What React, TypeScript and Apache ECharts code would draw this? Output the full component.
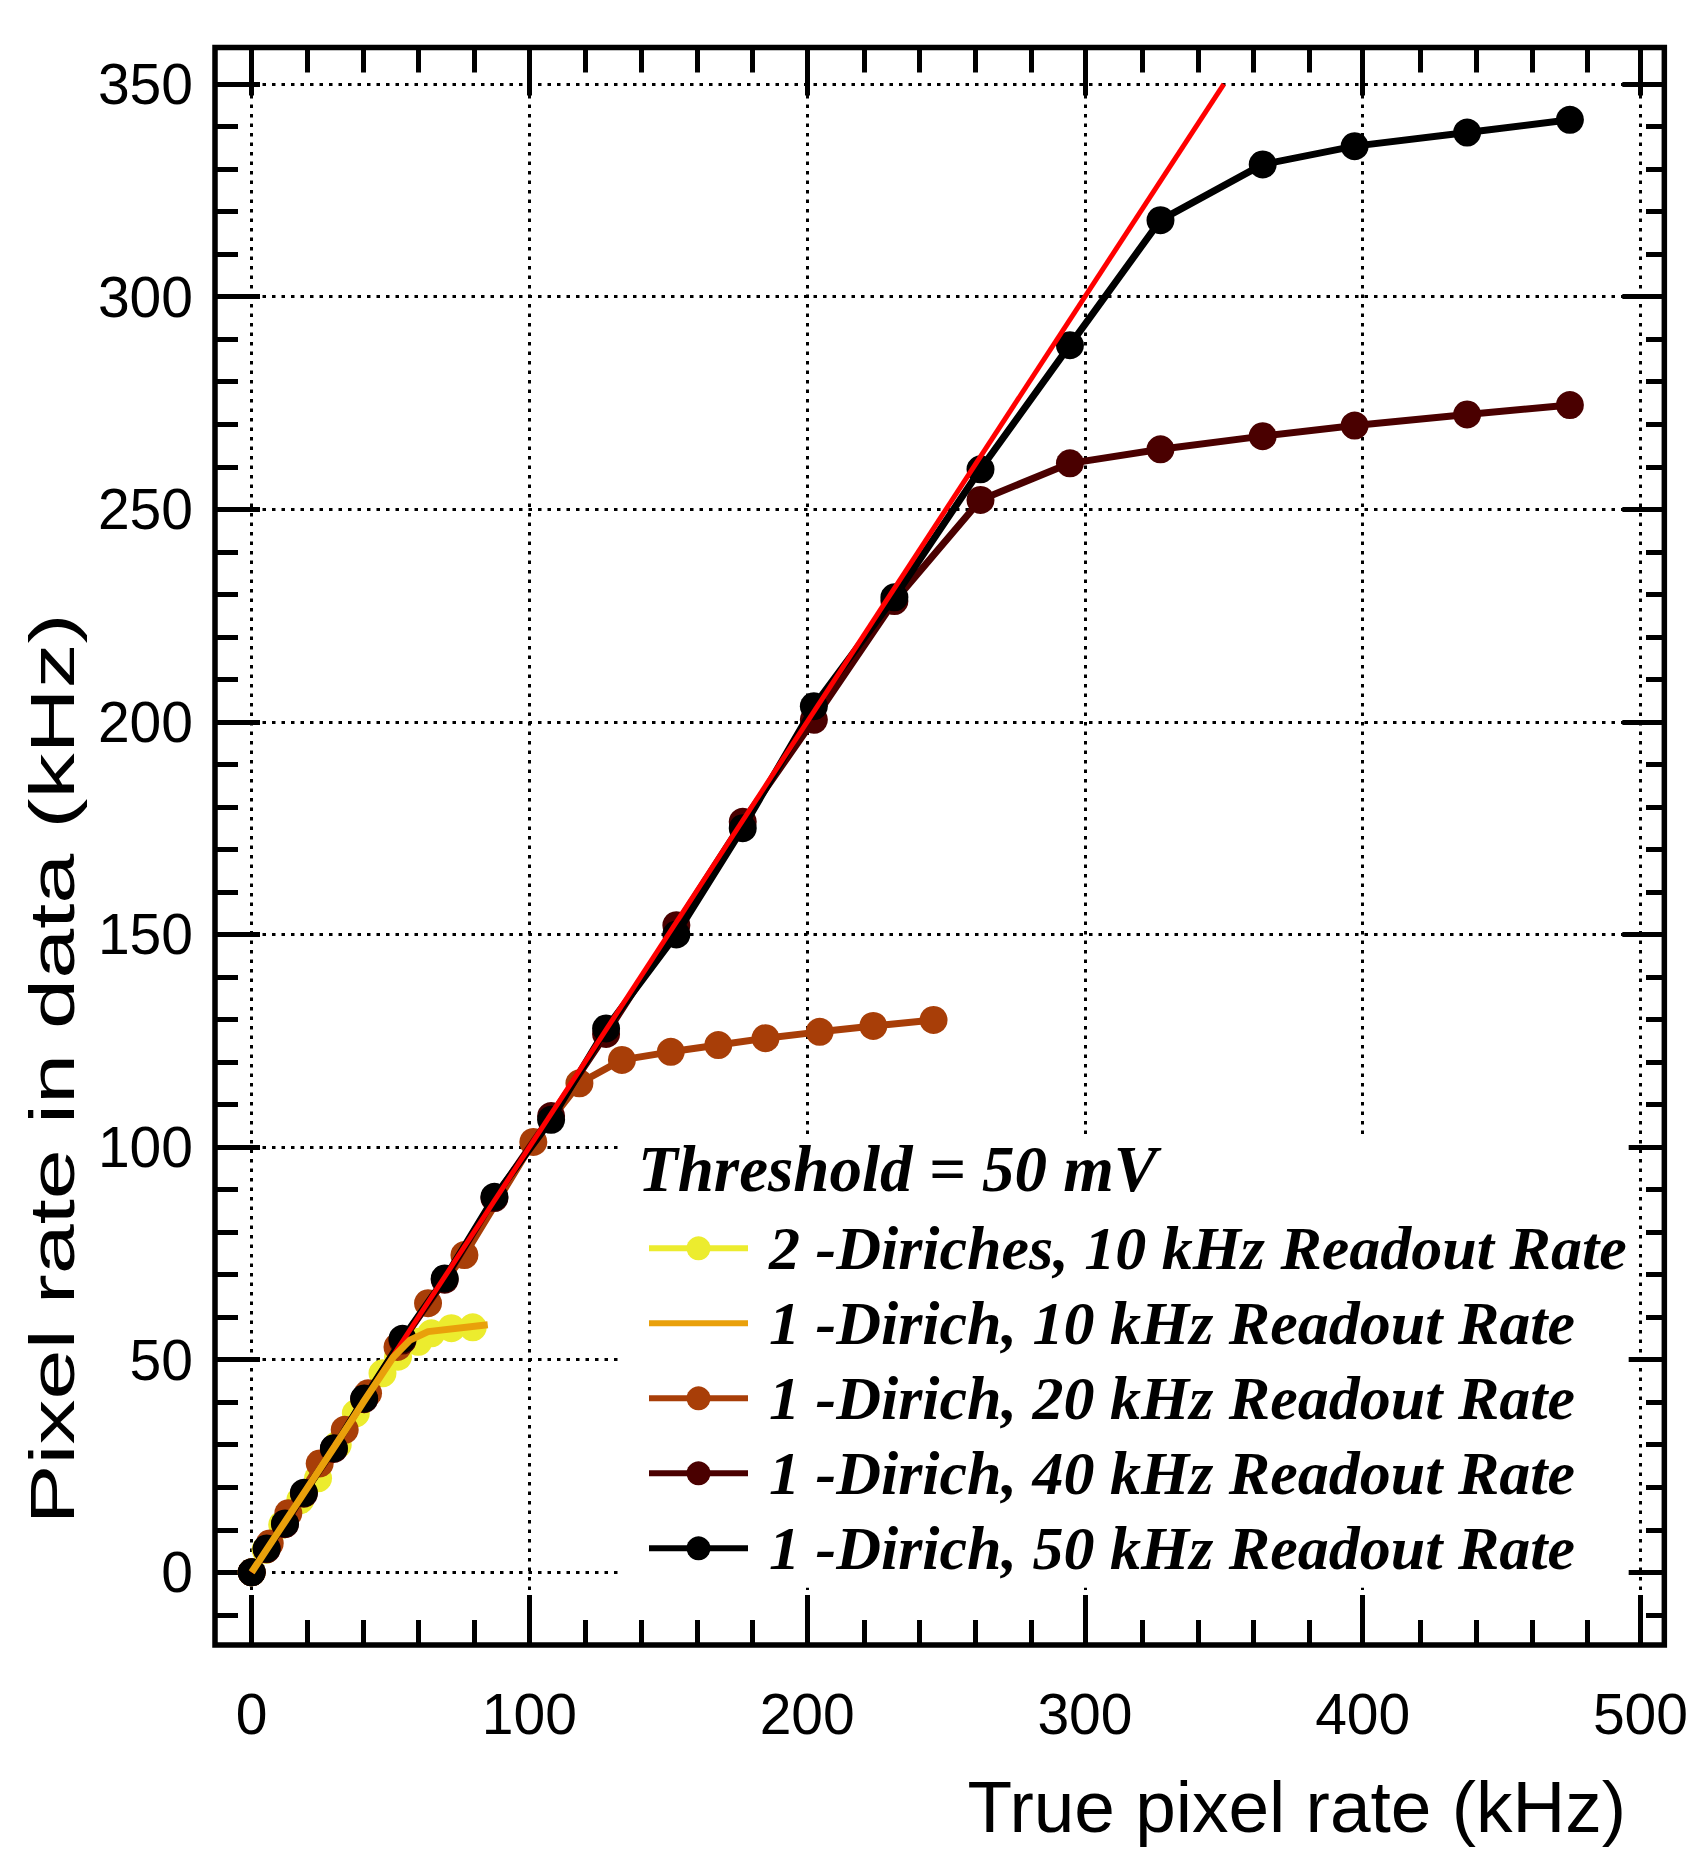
import React, { useEffect, useRef } from "react";
import * as echarts from "echarts";

// ---- axis ranges & ticks ----
const X_MIN = -13.2;
const X_MAX = 508.6;
const Y_MIN = -17.1;
const Y_MAX = 358.6;
const X_MAJOR = [0, 100, 200, 300, 400, 500];
const X_MINOR = [20, 40, 60, 80, 120, 140, 160, 180, 220, 240, 260, 280, 320, 340, 360, 380, 420, 440, 460, 480];
const Y_MAJOR = [0, 50, 100, 150, 200, 250, 300, 350];
const Y_MINOR = [-10, 10, 20, 30, 40, 60, 70, 80, 90, 110, 120, 130, 140, 160, 170, 180, 190, 210, 220, 230, 240, 260, 270, 280, 290, 310, 320, 330, 340];

// ---- series names ----
const NAMES = [
  "2 -Diriches, 10 kHz Readout Rate",
  "1 -Dirich, 10 kHz Readout Rate",
  "1 -Dirich, 20 kHz Readout Rate",
  "1 -Dirich, 40 kHz Readout Rate",
  "1 -Dirich, 50 kHz Readout Rate",
];

// ---- data ----
const YELLOW_X = [0, 5.0, 11.0, 17.5, 23.9, 31.0, 37.5, 47.1, 52.7, 60.0, 64.7, 71.9, 79.6];
const YELLOW_Y = [0, 5.3, 11.2, 17.0, 22.1, 30.0, 37.4, 46.8, 50.7, 54.2, 56.2, 57.4, 57.6];

const ORANGE_X = [0, 10, 20, 30, 40, 51, 57, 63.5, 85];
const ORANGE_Y = [0, 9.9, 19.8, 29.7, 39.8, 50.6, 54.6, 56.6, 58.2];

const RUST_X = [0, 6.5, 13.2, 24.5, 33.5, 41.9, 52.5, 63.5, 76.6, 101.4, 118.0, 133.3, 150.9, 168.0, 185.0, 204.5, 223.8, 245.5];
const RUST_Y = [0, 6.8, 13.9, 25.6, 33.5, 42.1, 53.0, 63.3, 74.6, 101.2, 115.0, 120.5, 122.4, 124.0, 125.6, 127.1, 128.5, 129.9];

const MAROON_X = [0, 5.4, 12.0, 18.8, 29.6, 40.5, 54.3, 69.5, 87.4, 107.8, 127.6, 152.9, 176.8, 202.4, 231.4, 262.4, 294.6, 327.2, 364.0, 397.1, 437.6, 474.6];
const MAROON_Y = [0, 5.4, 11.3, 18.5, 29.0, 40.7, 54.5, 68.8, 88.0, 107.3, 126.6, 152.2, 176.5, 200.5, 228.4, 252.2, 260.8, 264.1, 267.2, 269.7, 272.3, 274.5];

const BLACK_X = [0, 5.4, 12.0, 18.8, 29.6, 40.5, 54.3, 69.5, 87.4, 107.8, 127.6, 152.9, 176.8, 202.4, 231.4, 262.4, 294.6, 327.2, 364.0, 397.1, 437.6, 474.6];
const BLACK_Y = [0, 5.6, 11.5, 18.7, 29.2, 40.9, 54.9, 69.1, 88.3, 106.4, 127.9, 150.0, 175.0, 203.7, 229.3, 259.4, 288.6, 318.0, 331.1, 335.4, 338.6, 341.6];

const RED_X = [0, 350];
const RED_Y = [0, 350];

const YELLOW = "#ECEC2E";
const ORANGE = "#E9A00B";
const RUST = "#A83E08";
const MAROON = "#4A0000";
const BLACK = "#000000";
const RED = "#FF0000";

const SANS = '"Liberation Sans", Arial, Helvetica, sans-serif';
const SERIF = '"Liberation Serif", "Times New Roman", serif';

const pairs = (xs: number[], ys: number[]) => xs.map((x, i) => [x, ys[i]]);

const GRID = { left: 215, top: 47.5, width: 1452, height: 1597.5 };

function axis(dim: "x" | "y", gridIndex: number, position: string, ticks: number[], len: number, labels: boolean, split: boolean) {
  const a: any = {
    type: "value",
    gridIndex,
    position,
    min: dim === "x" ? X_MIN : Y_MIN,
    max: dim === "x" ? X_MAX : Y_MAX,
    axisLine: { show: false, onZero: false },
    axisTick: {
      show: true,
      inside: true,
      length: len,
      customValues: ticks,
      lineStyle: { color: "#000", width: 5 },
    },
    minorTick: { show: false },
    axisLabel: labels
      ? {
          show: true,
          customValues: ticks,
          fontSize: 57,
          fontFamily: SANS,
          color: "#000",
          margin: dim === "x" ? 40 : 22,
        }
      : { show: false },
    splitLine: split
      ? { show: true, lineStyle: { color: "#000", width: 3, type: [3.5, 6] } }
      : { show: false },
    splitArea: { show: false },
  };
  return a;
}

export default function App() {
  const ref = useRef<HTMLDivElement>(null);

  useEffect(() => {
    if (!ref.current) return;
    const chart = echarts.init(ref.current, undefined, { renderer: "svg" });

    const lineSeries = (name: string, xs: number[], ys: number[], color: string, z: number, width: number, sym: boolean) => ({
      name,
      type: "line",
      xAxisIndex: 0,
      yAxisIndex: 0,
      data: pairs(xs, ys),
      symbol: sym ? "circle" : "none",
      symbolSize: 28,
      showSymbol: sym,
      color,
      itemStyle: { color },
      lineStyle: { color, width },
      z,
      silent: true,
      emphasis: { disabled: true },
      clip: true,
    });

    chart.setOption({
      animation: false,
      backgroundColor: "#ffffff",
      grid: [
        { ...GRID, show: true, borderColor: "#000", borderWidth: 5.5, backgroundColor: "transparent" },
        { ...GRID },
      ],
      xAxis: [
        axis("x", 0, "bottom", X_MAJOR, 50, true, true),
        axis("x", 0, "top", X_MAJOR, 48, false, false),
        axis("x", 1, "bottom", X_MINOR, 25, false, false),
        axis("x", 1, "top", X_MINOR, 25, false, false),
      ],
      yAxis: [
        axis("y", 0, "left", Y_MAJOR, 45, true, true),
        axis("y", 0, "right", Y_MAJOR, 42, false, false),
        axis("y", 1, "left", Y_MINOR, 23, false, false),
        axis("y", 1, "right", Y_MINOR, 21, false, false),
      ],
      legend: {
        orient: "vertical",
        left: 618,
        top: 1135,
        padding: [75.8, 2, 2, 28],
        itemGap: 0,
        itemWidth: 99,
        itemHeight: 30,
        backgroundColor: "#ffffff",
        selectedMode: false,
        lineStyle: { width: 6 },
        textStyle: {
          fontFamily: SERIF,
          fontStyle: "italic",
          fontWeight: "bold",
          fontSize: 62,
          color: "#000",
          lineHeight: 75,
          padding: [0, 0, 0, 16],
        },
        data: [
          { name: NAMES[0] },
          { name: NAMES[1], icon: "path://M0,0H100V6H0Z" },
          { name: NAMES[2] },
          { name: NAMES[3] },
          { name: NAMES[4] },
        ],
      },
      graphic: [
        {
          type: "text",
          x: 638,
          y: 1169,
          z: 100,
          style: {
            text: "Threshold = 50 mV",
            fontFamily: SERIF,
            fontStyle: "italic",
            fontWeight: "bold",
            fontSize: 65,
            fill: "#000",
            align: "left",
            verticalAlign: "middle",
          },
        },
        {
          type: "text",
          x: 1626,
          y: 1806,
          z: 100,
          style: {
            text: "True pixel rate (kHz)",
            fontFamily: SANS,
            fontSize: 73,
            fill: "#000",
            align: "right",
            verticalAlign: "middle",
          },
        },
        {
          type: "text",
          x: 52,
          y: 1069,
          rotation: Math.PI / 2,
          scaleX: 1.43,
          z: 100,
          style: {
            text: "Pixel rate in data (kHz)",
            fontFamily: SANS,
            fontSize: 63,
            fill: "#000",
            align: "center",
            verticalAlign: "middle",
          },
        },
      ],
      series: [
        lineSeries(NAMES[0], YELLOW_X, YELLOW_Y, YELLOW, 2, 7, true),
        lineSeries(NAMES[1], ORANGE_X, ORANGE_Y, ORANGE, 7, 7, false),
        lineSeries(NAMES[2], RUST_X, RUST_Y, RUST, 3, 7, true),
        lineSeries(NAMES[3], MAROON_X, MAROON_Y, MAROON, 4, 7, true),
        lineSeries(NAMES[4], BLACK_X, BLACK_Y, BLACK, 5, 7, true),
        lineSeries("Linear fit", RED_X, RED_Y, RED, 6, 5, false),
      ],
    });

    return () => chart.dispose();
  }, []);

  return (
    <div
      ref={ref}
      style={{ position: "fixed", left: 0, top: 0, width: 1691, height: 1851, background: "#fff" }}
    />
  );
}
